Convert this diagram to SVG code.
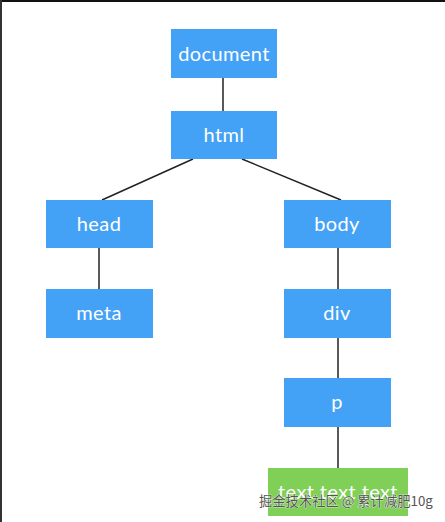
<svg xmlns="http://www.w3.org/2000/svg" width="445" height="522" viewBox="0 0 445 522">
<style>
.n{fill:#44a2f6}
.g{fill:#80d057}
.t{font-family:Lato,"Open Sans",sans-serif;font-size:20px;letter-spacing:0.4px;fill:#ffffff;text-anchor:middle}
.c line{stroke:#222;stroke-width:1.5}
.wm{font-family:"Noto Sans CJK SC","Noto Sans",sans-serif;font-size:13.3px;fill:#555;stroke:#fff;stroke-width:0.6;paint-order:stroke}
</style>
<rect width="445" height="522" fill="#fff"/>
<rect x="0" y="0" width="445" height="2" fill="#111"/>
<rect x="0" y="0" width="2" height="522" fill="#333"/>
<g class="c" id="connectors">
<line x1="223" y1="78" x2="223" y2="111"/>
<line x1="193" y1="159" x2="102" y2="200"/>
<line x1="242" y1="159" x2="341" y2="200"/>
<line x1="99" y1="248" x2="99" y2="290"/>
<line x1="338" y1="248" x2="338" y2="290"/>
<line x1="338" y1="337" x2="338" y2="379"/>
<line x1="338" y1="426" x2="338" y2="468"/>
</g>
<g id="document"><rect class="n" x="171" y="29" width="106" height="49"/><text class="t" x="224" y="60.5">document</text></g>
<g id="html"><rect class="n" x="171" y="111" width="106" height="48"/><text class="t" x="224" y="142">html</text></g>
<g id="head"><rect class="n" x="46" y="200" width="107" height="48"/><text class="t" x="99" y="231">head</text></g>
<g id="body"><rect class="n" x="284" y="200" width="107" height="48"/><text class="t" x="337" y="231">body</text></g>
<g id="meta"><rect class="n" x="46" y="289" width="107" height="49"/><text class="t" x="99" y="320">meta</text></g>
<g id="div"><rect class="n" x="284" y="289" width="107" height="49"/><text class="t" x="337" y="320">div</text></g>
<g id="p"><rect class="n" x="284" y="378" width="107" height="49"/><text class="t" x="337" y="409">p</text></g>
<g id="text"><rect class="g" x="268" y="468" width="140" height="48"/><text class="t" x="338" y="499">text text text</text></g>
<text class="wm" x="259" y="506">掘金技术社区 @ 累计减肥10g</text>
</svg>
